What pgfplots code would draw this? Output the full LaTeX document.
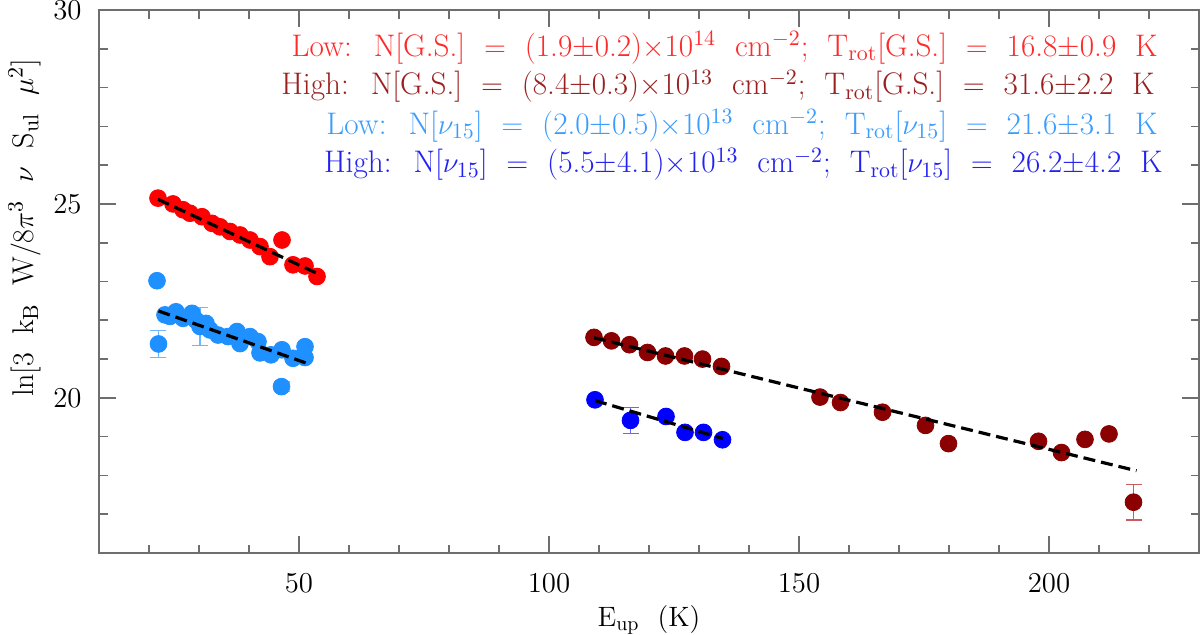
\documentclass[border=0pt]{standalone}
\usepackage{pgfplots}
\pgfplotsset{compat=1.18}
\usepackage{pgfplotstable}
\definecolor{lowgs}{HTML}{FF0000}
\definecolor{highgs}{HTML}{8B0000}
\definecolor{lownu}{HTML}{1E90FF}
\definecolor{highnu}{HTML}{0000FF}
\definecolor{lowgstxt}{HTML}{FF2A2A}
\definecolor{highgstxt}{HTML}{9A2020}
\definecolor{lownutxt}{HTML}{3A9CFF}
\definecolor{highnutxt}{HTML}{2222F0}
\definecolor{axgray}{HTML}{6E6E6E}

\pgfplotstableread{
x y ey
21.8 25.15 0
24.8 25.00 0
26.8 24.85 0
28.2 24.76 0
30.6 24.67 0
32.6 24.50 0
34.2 24.41 0
36.2 24.29 0
38.2 24.20 0
40.2 24.07 0
42.2 23.90 0
44.2 23.64 0
46.6 24.07 0
48.8 23.43 0
51.2 23.40 0
53.6 23.13 0
}\lowgs

\pgfplotstableread{
x y ey
21.6 23.02 0
21.9 21.39 0.35
23.2 22.14 0
24.2 22.10 0
25.4 22.22 0
26.8 22.05 0
28.6 22.18 0
29.4 22.00 0
30.2 21.84 0.50
31.4 21.92 0
32.2 21.75 0
33.8 21.62 0
35.8 21.58 0
37.6 21.71 0
38.2 21.40 0
40.2 21.58 0
41.8 21.45 0
42.2 21.16 0
44.4 21.11 0
46.6 21.24 0
46.5 20.29 0.12
48.8 21.02 0
51.2 21.32 0
51.2 21.04 0
}\lownu

\pgfplotstableread{
x y ey
109.0 21.56 0
112.5 21.47 0
116.1 21.37 0
119.7 21.17 0
123.3 21.08 0
127.1 21.08 0
130.7 21.00 0
134.5 20.81 0
154.2 20.02 0
158.3 19.88 0
166.7 19.63 0
175.3 19.29 0
179.9 18.82 0
197.9 18.88 0
202.5 18.59 0
207.2 18.93 0
212.0 19.07 0
216.9 17.31 0.46
}\highgs

\pgfplotstableread{
x y ey
109.2 19.95 0
116.3 19.42 0.34
123.4 19.52 0
127.2 19.11 0
130.9 19.11 0
134.7 18.92 0
}\highnu

\pgfplotsset{
  commonax/.style={
    at={(49.5pt,40.5pt)}, anchor=south west,
    width=550pt, height=271.5pt, scale only axis,
    xmin=10, xmax=230, ymin=16, ymax=30,
  },
  fitline/.style={black, line width=1.6pt, dash pattern=on 6pt off 3pt},
}

\begin{document}
\fontsize{13.5}{16}\selectfont
\begin{tikzpicture}
\useasboundingbox (0,0) rectangle (600pt,317pt);
\begin{axis}[
  commonax,
  xtick={50,100,150,200}, minor xtick={10,20,...,230},
  ytick={20,25,30}, minor ytick={16,17,...,30},
  tick align=inside,
  major tick length=8.5pt, minor tick length=4.25pt,
  axis line style={axgray, line width=0.8pt},
  every tick/.style={axgray, line width=0.8pt},
  xticklabel style={anchor=center, yshift=-15pt, inner sep=0pt},
  yticklabel style={anchor=east, xshift=-8.5pt, inner sep=0pt},
  xlabel={E$_{\rm up}$ \ (K)},
  ylabel={ln[3 \ k$_{\rm B}$ \ W/8$\pi^3$ \ $\nu$ \ S$_{\rm ul}$ \ $\mu^2$]},
  xlabel style={at={(axis description cs:0.5,0)}, anchor=base, yshift=-36.5pt, inner sep=0pt, font=\fontsize{14}{16}\selectfont},
  ylabel style={at={(axis description cs:-0.06,0.5985)}, anchor=base, inner sep=0pt, font=\fontsize{15}{17}\selectfont},
  clip=false,
]
\addplot[only marks, mark=*, mark size=4.2pt, color=lowgs,
  error bars/.cd, y dir=both, y explicit,
  error bar style={color=lowgs!70, line width=0.6pt},
  error mark options={rotate=90, mark size=4pt, line width=0.6pt}]
  table[x=x, y=y, y error=ey] {\lowgs};
\addplot[only marks, mark=*, mark size=4.2pt, color=lownu,
  error bars/.cd, y dir=both, y explicit,
  error bar style={color=lownu!65, line width=0.6pt},
  error mark options={rotate=90, mark size=4pt, line width=0.6pt}]
  table[x=x, y=y, y error=ey] {\lownu};
\addplot[only marks, mark=*, mark size=4.2pt, color=highgs,
  error bars/.cd, y dir=both, y explicit,
  error bar style={color=highgs!55!white!80!red, line width=0.6pt},
  error mark options={rotate=90, mark size=4pt, line width=0.6pt}]
  table[x=x, y=y, y error=ey] {\highgs};
\addplot[only marks, mark=*, mark size=4.2pt, color=highnu,
  error bars/.cd, y dir=both, y explicit,
  error bar style={color=highnu!60, line width=0.6pt},
  error mark options={rotate=90, mark size=4pt, line width=0.6pt}]
  table[x=x, y=y, y error=ey] {\highnu};

\begin{scope}[every node/.style={anchor=base east, inner sep=0pt, font=\fontsize{15.6}{18}\selectfont}]
\node[text=lowgstxt] at (axis cs:221.8,28.81) {Low: \ N[G.S.] \ $=$ \ (1.9$\pm$0.2)$\times$10$^{14}$ \ cm$^{-2}$; \ T$_{\rm rot}$[G.S.] \ $=$ \ 16.8$\pm$0.9 \ K};
\node[text=highgstxt] at (axis cs:221.2,27.81) {High: \ N[G.S.] \ $=$ \ (8.4$\pm$0.3)$\times$10$^{13}$ \ cm$^{-2}$; \ T$_{\rm rot}$[G.S.] \ $=$ \ 31.6$\pm$2.2 \ K};
\node[text=lownutxt] at (axis cs:221.8,26.80) {Low: \ N[$\nu_{15}$] \ $=$ \ (2.0$\pm$0.5)$\times$10$^{13}$ \ cm$^{-2}$; \ T$_{\rm rot}$[$\nu_{15}$] \ $=$ \ 21.6$\pm$3.1 \ K};
\node[text=highnutxt] at (axis cs:222.8,25.80) {High: \ N[$\nu_{15}$] \ $=$ \ (5.5$\pm$4.1)$\times$10$^{13}$ \ cm$^{-2}$; \ T$_{\rm rot}$[$\nu_{15}$] \ $=$ \ 26.2$\pm$4.2 \ K};
\end{scope}
\end{axis}
\begin{axis}[commonax, hide axis, clip=false]
\addplot[fitline] coordinates {(21.8,25.12) (53.6,23.21)};
\addplot[fitline] coordinates {(21.9,22.24) (51.6,20.89)};
\addplot[fitline] coordinates {(109.0,21.55) (217.5,18.12)};
\addplot[fitline] coordinates {(109.2,19.93) (134.8,18.95)};
\end{axis}
\end{tikzpicture}
\end{document}
